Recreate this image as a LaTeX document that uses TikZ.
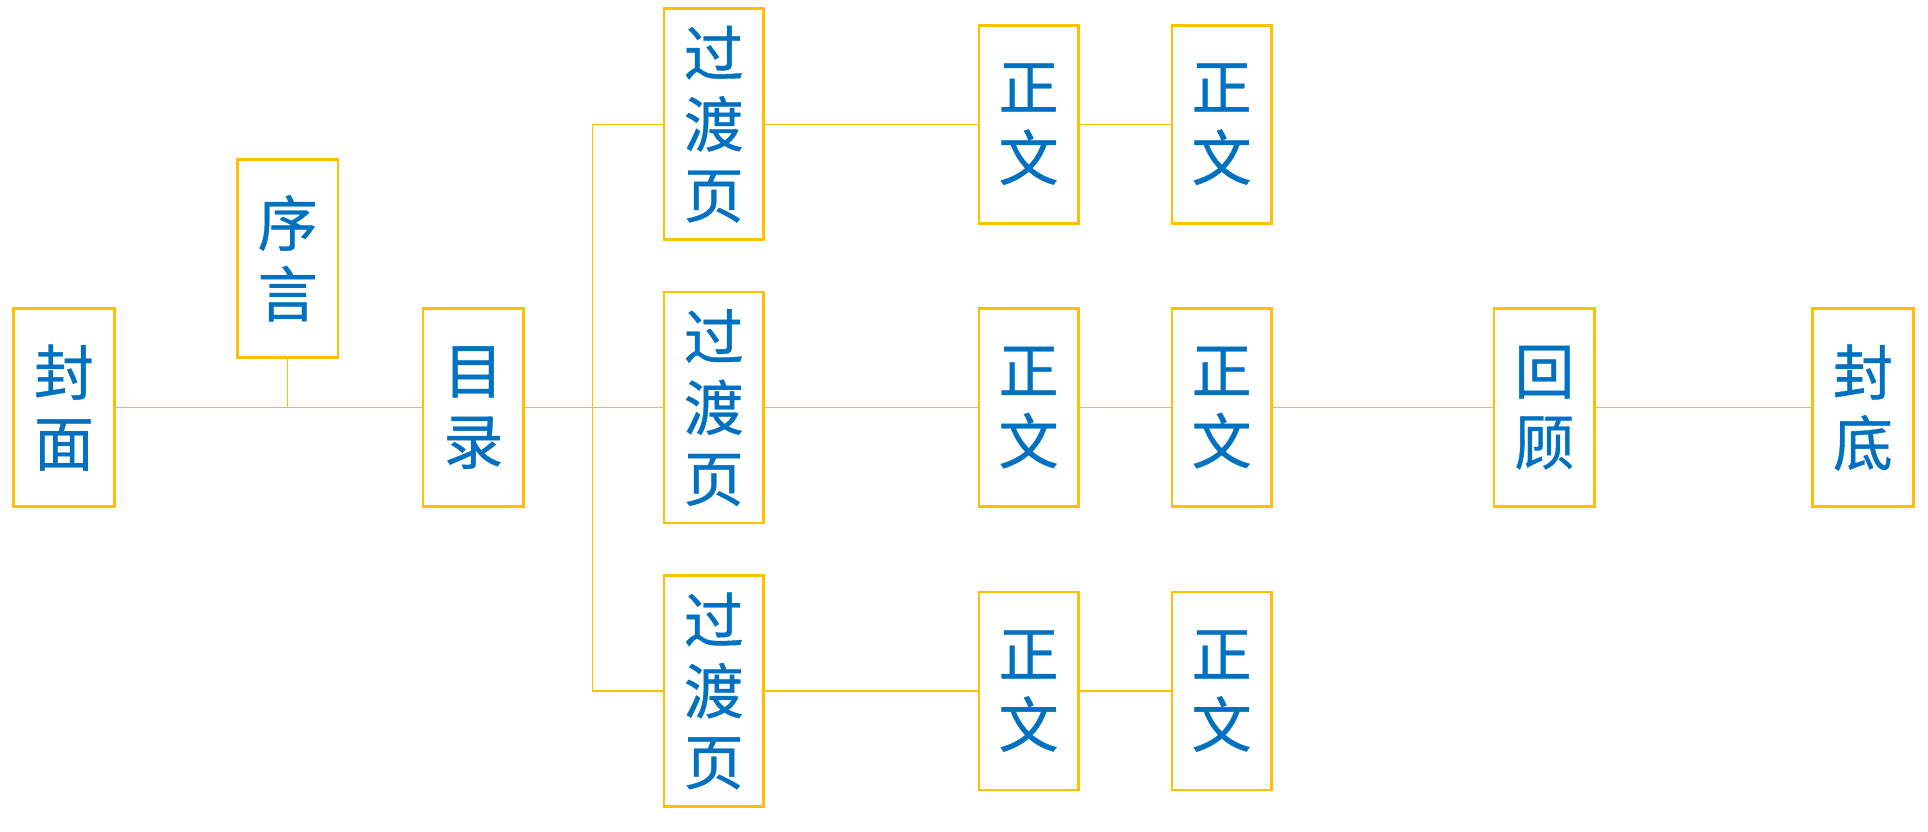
\documentclass[tikz,border=0pt]{standalone}
\usepackage{fontspec}
\newfontfamily\cjk[FakeBold=0.6]{Noto Sans CJK SC}
\definecolor{gold}{HTML}{FFC000}
\definecolor{txtblue}{HTML}{0070C0}
\tikzset{
  pagebox/.style={draw=gold, line width=1.3pt, fill=white, inner sep=0pt,
    minimum width=50.3pt, minimum height=99pt, align=center,
    text=txtblue, font=\cjk\fontsize{30}{35.4}\selectfont},
  tallbox/.style={pagebox, minimum width=49.8pt, minimum height=115.5pt},
  link/.style={draw=gold, line width=0.6pt}
}
\begin{document}
\begin{tikzpicture}[x=0.5pt, y=-0.5pt]
\useasboundingbox (0,0) rectangle (1928,831);
% nodes
\node[pagebox] (fm) at (64,407.6) {封\\面};
\node[pagebox] (xy) at (287.7,258.2) {序\\言};
\node[pagebox] (ml) at (473.4,407.6) {目\\录};
\node[tallbox] (gd1) at (713.8,124.2) {过\\渡\\页};
\node[tallbox] (gd2) at (713.8,407.6) {过\\渡\\页};
\node[tallbox] (gd3) at (713.8,691) {过\\渡\\页};
\node[pagebox, minimum width=49.8pt] (za1) at (1028.6,124.2) {正\\文};
\node[pagebox, minimum width=49.8pt] (za2) at (1028.6,407.6) {正\\文};
\node[pagebox, minimum width=49.8pt] (za3) at (1028.6,691) {正\\文};
\node[pagebox, minimum width=49.8pt] (zb1) at (1221.6,124.2) {正\\文};
\node[pagebox, minimum width=49.8pt] (zb2) at (1221.6,407.6) {正\\文};
\node[pagebox, minimum width=49.8pt] (zb3) at (1221.6,691) {正\\文};
\node[pagebox] (hg) at (1544.4,407.6) {回\\顾};
\node[pagebox] (fd) at (1862.9,407.6) {封\\底};
\coordinate (tk) at (592.7,407.6);
% connectors
\draw[link] (fm.east) -- (ml.west);
\draw[link] (xy.south) -- (xy.south |- fm.east);
\draw[link] (ml.east) -- (gd2.west);
\draw[link] (gd1.west) -- (gd1.west -| tk) -- (gd3.west -| tk) -- (gd3.west);
\draw[link] (gd1.east) -- (za1.west);
\draw[link] (gd2.east) -- (za2.west);
\draw[link] (gd3.east) -- (za3.west);
\draw[link] (za1.east) -- (zb1.west);
\draw[link] (za2.east) -- (zb2.west);
\draw[link] (za3.east) -- (zb3.west);
\draw[link] (zb2.east) -- (hg.west);
\draw[link] (hg.east) -- (fd.west);
\end{tikzpicture}
\end{document}
